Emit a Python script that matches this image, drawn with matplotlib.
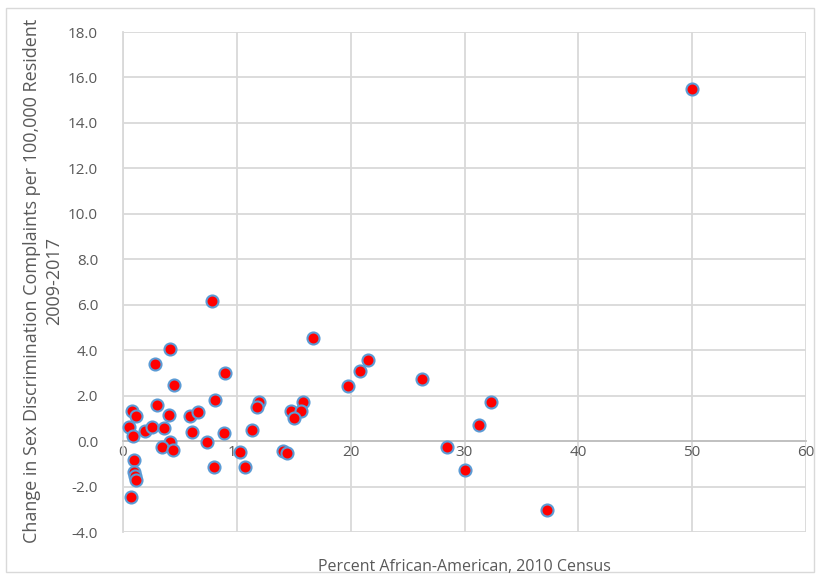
import matplotlib
matplotlib.use("Agg")
import matplotlib.pyplot as plt
from matplotlib.patches import Rectangle

pct_african_american = [50.0, 7.82, 16.7, 4.16, 2.83, 21.5, 20.85, 8.93, 4.46, 26.3,
                        19.8, 32.34, 15.82, 11.97, 11.8, 14.76, 15.67, 15.05, 2.99, 8.08,
                        0.79, 1.17, 4.04, 5.92, 6.56, 0.53, 1.9, 2.58, 3.6, 0.88,
                        6.03, 8.87, 11.36, 4.16, 7.38, 3.43, 4.39, 10.25, 0.94, 8.0,
                        10.72, 0.97, 1.08, 1.17, 0.73, 31.31, 28.44, 14.09, 14.38, 30.05,
                        37.23]
change_complaints = [15.5, 6.16, 4.55, 4.05, 3.39, 3.58, 3.07, 2.99, 2.46, 2.73,
                     2.41, 1.72, 1.73, 1.72, 1.51, 1.31, 1.31, 1.0, 1.6, 1.80,
                     1.33, 1.10, 1.17, 1.11, 1.26, 0.63, 0.45, 0.62, 0.57, 0.21,
                     0.41, 0.35, 0.48, -0.03, -0.04, -0.25, -0.37, -0.48, -0.85, -1.13,
                     -1.16, -1.36, -1.54, -1.72, -2.46, 0.69, -0.28, -0.44, -0.51, -1.25,
                     -3.04]
x_ticks = [0, 10, 20, 30, 40, 50, 60]
y_ticks = [-4.0, -2.0, 0.0, 2.0, 4.0, 6.0, 8.0, 10.0, 12.0, 14.0, 16.0, 18.0]
x_title = "Percent African-American, 2010 Census"
y_title = "Change in Sex Discrimination Complaints per 100,000 Resident\n2009-2017"

plt.rcParams['font.family'] = ['Open Sans', 'DejaVu Sans']
txt_color = '#595959'

fig = plt.figure(figsize=(8.18, 5.77), dpi=100)
fig.patches.append(Rectangle((6/818, 5/577), 808/818, 564/577, transform=fig.transFigure,
                             fill=False, edgecolor='#D9D9D9', linewidth=1.0))
ax = fig.add_axes([123/818, 1-532/577, (806-123)/818, (532-32)/577])
ax.set_xlim(0, 60)
ax.set_ylim(-4, 18)
ax.set_xticks(x_ticks)
ax.set_yticks(y_ticks)
ax.set_yticklabels([f"{v:.1f}" for v in y_ticks])
ax.set_xticklabels([str(v) for v in x_ticks])
ax.grid(True, color='#D9D9D9', linewidth=1.3)
ax.set_axisbelow(True)
for s in ['top', 'right']:
    ax.spines[s].set_visible(False)
ax.spines['left'].set_color('#D9D9D9')
ax.spines['left'].set_linewidth(1.3)
ax.spines['bottom'].set_position(('data', 0))
ax.spines['bottom'].set_color('#BFBFBF')
ax.spines['bottom'].set_linewidth(1.3)
ax.tick_params(axis='both', length=0, labelsize=11, labelcolor=txt_color)
ax.tick_params(axis='y', pad=18)
ax.tick_params(axis='x', pad=3)

ax.scatter(pct_african_american, change_complaints, s=75, c='#FF0000',
           edgecolors='#5B9BD5', linewidths=1.5, zorder=3, clip_on=False)

fig.text(464/818, 1-567/577, x_title, fontsize=11.5, color=txt_color,
         ha='center', va='center')
fig.text(43/818, 1-281/577, y_title, fontsize=13, color=txt_color, rotation=90,
         ha='center', va='center', multialignment='center', linespacing=1.3)

fig.savefig("out.png", dpi=100)
